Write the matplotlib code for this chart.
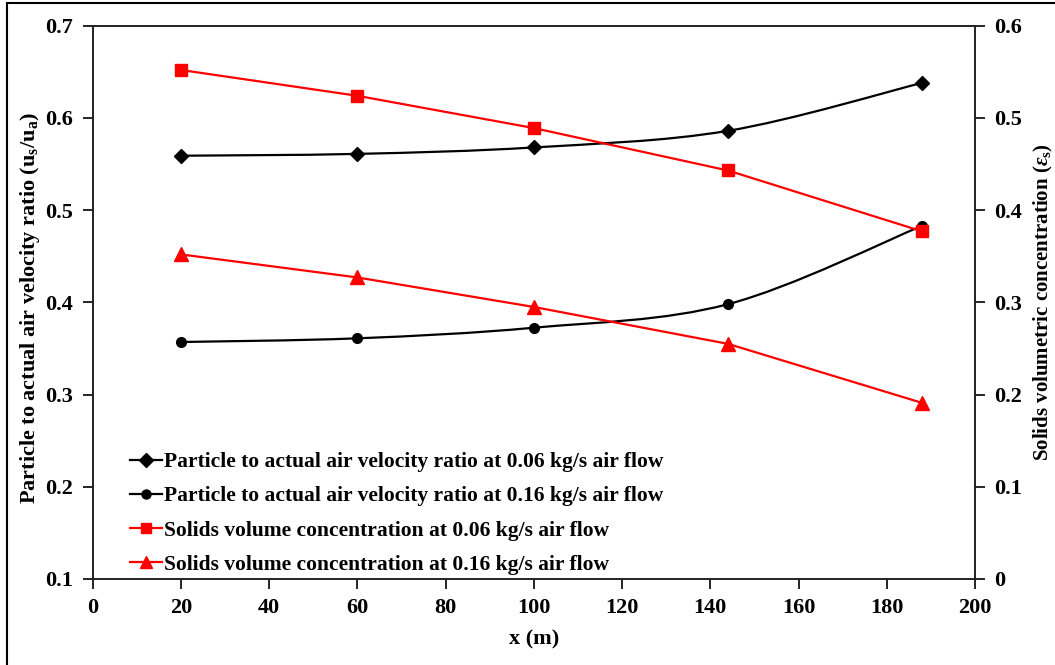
import numpy as np
import matplotlib
matplotlib.use("Agg")
import matplotlib.pyplot as plt
from matplotlib.path import Path
from matplotlib.patches import PathPatch, Rectangle
from matplotlib.lines import Line2D

# Distance along pipeline (m)
x_m = [20, 60, 100, 144, 188]

# Particle to actual air velocity ratio (us/ua)
ratio_006 = [0.559, 0.561, 0.568, 0.586, 0.638]
ratio_016 = [0.357, 0.361, 0.3725, 0.398, 0.483]

# Solids volumetric concentration (eps_s)
conc_006 = [0.552, 0.524, 0.489, 0.443, 0.377]
conc_016 = [0.352, 0.327, 0.295, 0.255, 0.191]

labels = [
    "Particle to actual air velocity ratio at 0.06 kg/s air flow",
    "Particle to actual air velocity ratio at 0.16 kg/s air flow",
    "Solids volume concentration at 0.06 kg/s air flow",
    "Solids volume concentration at 0.16 kg/s air flow",
]

xticks = [0, 20, 40, 60, 80, 100, 120, 140, 160, 180, 200]
left_ticks = [0.1, 0.2, 0.3, 0.4, 0.5, 0.6, 0.7]
right_ticks = [0, 0.1, 0.2, 0.3, 0.4, 0.5, 0.6]

plt.rcParams["font.family"] = ["Liberation Serif", "DejaVu Serif"]
plt.rcParams["font.weight"] = "bold"
plt.rcParams["mathtext.fontset"] = "custom"
plt.rcParams["mathtext.rm"] = "Liberation Serif:bold"
plt.rcParams["mathtext.it"] = "Liberation Serif:italic:bold"
plt.rcParams["mathtext.bf"] = "Liberation Serif:bold"


def smooth_path(xs, ys):
    """Cubic Bezier path through the points (spreadsheet-style smoothed line)."""
    p = np.column_stack([xs, ys]).astype(float)
    ext = np.vstack([p[0], p, p[-1]])
    verts = [p[0]]
    codes = [Path.MOVETO]
    for i in range(len(p) - 1):
        p0, p1, p2, p3 = ext[i], ext[i + 1], ext[i + 2], ext[i + 3]
        c1 = p1 + (p2 - p0) / 6.0
        c2 = p2 - (p3 - p1) / 6.0
        verts += [c1, c2, p2]
        codes += [Path.CURVE4] * 3
    return Path(verts, codes)


fig = plt.figure(figsize=(10.55, 6.65), dpi=100)
ax = fig.add_axes([92.7 / 1055, 1 - 579 / 665, (975 - 92.7) / 1055, (579 - 25.7) / 665])
ax2 = ax.twinx()

lw = 1.6
# Velocity ratio curves (smoothed, left axis)
ax.add_patch(PathPatch(smooth_path(x_m, ratio_006), fill=False, edgecolor="black", lw=lw, zorder=2))
ax.add_patch(PathPatch(smooth_path(x_m, ratio_016), fill=False, edgecolor="black", lw=lw, zorder=2))
ax.plot(x_m, ratio_006, ls="none", marker="D", ms=7.5, color="black", zorder=3)
ax.plot(x_m, ratio_016, ls="none", marker="o", ms=7, color="black", zorder=3)

# Concentration curves (right axis)
ax2.plot(x_m, conc_006, color="red", lw=lw, marker="s", ms=8, zorder=3)
ax2.plot(x_m, conc_016, color="red", lw=lw, marker="^", ms=9.5, zorder=3)

ax.set_xlim(0, 200)
ax.set_ylim(0.1, 0.7)
ax2.set_ylim(0, 0.6)
ax.set_xticks(xticks)
ax.set_xticklabels([str(v) for v in xticks])
ax.set_yticks(left_ticks)
ax.set_yticklabels([f"{v:.1f}" for v in left_ticks])
ax2.set_yticks(right_ticks)
ax2.set_yticklabels(["0"] + [f"{v:.1f}" for v in right_ticks[1:]])

fs = 16
for a in (ax, ax2):
    a.tick_params(direction="out", length=7, width=1.2, labelsize=fs, pad=7)
    for s in a.spines.values():
        s.set_linewidth(1.2)
        s.set_color("#222222")

ax.set_xlabel("x (m)", fontsize=16, fontweight="bold", labelpad=8)
ax.set_ylabel(r"Particle to actual air velocity ratio (u$_\mathregular{s}$/u$_\mathregular{a}$)",
              fontsize=16, fontweight="bold")
ax.yaxis.set_label_coords(-0.0575, 0.49)
ax2.set_ylabel(r"Solids volumetric concentration ($\mathit{\varepsilon}_\mathregular{s}$)",
               fontsize=15, fontweight="bold")
ax2.yaxis.set_label_coords(1.0646, 0.5)

handles = [
    Line2D([], [], color="black", lw=lw, marker="D", ms=7),
    Line2D([], [], color="black", lw=lw, marker="o", ms=6.5),
    Line2D([], [], color="red", lw=lw, marker="s", ms=7.5),
    Line2D([], [], color="red", lw=lw, marker="^", ms=8.5),
]
leg = ax2.legend(handles, labels, loc="lower left", bbox_to_anchor=(0.03, -0.012),
                 frameon=False, fontsize=15.5, handlelength=1.5, handletextpad=0.1,
                 labelspacing=0.66, borderaxespad=0.2, borderpad=0.3)

# Outer frame
fig.add_artist(Rectangle((6.5 / 1055, -0.1), 1.2, (665 - 2.5) / 665 + 0.1,
                         transform=fig.transFigure, fill=False, lw=1.5,
                         edgecolor="black", clip_on=False))

fig.savefig("out.png", dpi=100)
